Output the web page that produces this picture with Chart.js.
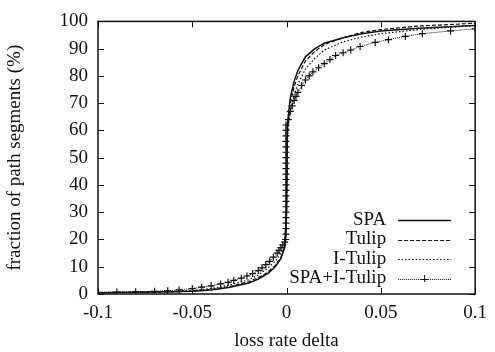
<!DOCTYPE html>
<html lang="en">
<head>
    <meta charset="UTF-8">
    <title>Loss rate delta CDF</title>
    <script src="https://cdn.jsdelivr.net/npm/chart.js"></script>
    <style>
        body { margin: 0; background: #ffffff; }
        canvas { display: block; }
    </style>
</head>
<body>
    <canvas id="cdfChart" width="495" height="352"></canvas>

    <script>
        // values
        const seriesNames = ['SPA', 'Tulip', 'I-Tulip', 'SPA+I-Tulip'];

        const spaX = [-0.1, -0.08, -0.06, -0.05, -0.04, -0.03, -0.02, -0.015, -0.01, -0.006, -0.003, -0.001, 0, 0.0005, 0.001, 0.002, 0.004, 0.006, 0.01, 0.015, 0.02, 0.03, 0.04, 0.05, 0.07, 0.1];
        const spaY = [0.5, 0.6, 0.8, 1, 1.5, 2.5, 4, 5.5, 7.5, 10, 13, 17, 30, 62, 66, 72, 78, 82, 87, 90, 92, 94, 95.5, 96.5, 97.5, 98.5];

        const tulipX = spaX;
        const tulipY = [0.5, 0.6, 0.8, 1.1, 1.7, 2.8, 4.5, 6, 8, 10.5, 13.5, 17.5, 30, 60, 64, 70, 76, 80, 85.5, 89, 91.5, 94, 96, 97, 98.3, 99.3];

        const iTulipX = spaX;
        const iTulipY = [0.5, 0.7, 1, 1.3, 2, 3.3, 5.2, 7, 9.5, 12, 15, 18.5, 30, 58, 62, 67, 73, 77, 82.5, 86.5, 89.5, 92.5, 94.3, 95.5, 97, 98.5];

        const comboX = [-0.1, -0.09, -0.08, -0.07, -0.063, -0.057, -0.05, -0.045, -0.04, -0.035, -0.031, -0.028, -0.024, -0.021, -0.018, -0.015, -0.013, -0.011, -0.009, -0.007, -0.005, -0.004, -0.003, -0.002, -0.001, -0.0005,
            -0.0003, -0.0003, -0.0003, -0.0003, -0.0003, -0.0003, -0.0003, -0.0003, -0.0003, -0.0003, -0.0003, -0.0003, -0.0003, -0.0003, -0.0003, -0.0003, -0.0003, -0.0003, -0.0003, -0.0003, -0.0003,
            0.001, 0.002, 0.003, 0.004, 0.005, 0.006, 0.008, 0.01, 0.012, 0.014, 0.017, 0.02, 0.023, 0.026, 0.03, 0.034, 0.039, 0.047, 0.054, 0.063, 0.072, 0.087, 0.1];
        const comboY = [0.6, 0.7, 0.8, 1, 1.2, 1.5, 2, 2.5, 3, 3.7, 4.3, 5, 5.8, 6.6, 7.5, 8.6, 9.6, 10.8, 12, 13.5, 15, 16, 17, 18, 19, 20,
            22, 24, 26, 28, 30, 32, 34, 36, 38, 40, 42, 44, 46, 48, 50, 52, 54, 56, 58, 60, 62,
            64, 67, 69, 71, 72.5, 74, 76.5, 78.5, 80, 81.5, 83, 84.5, 86, 87.5, 88.5, 89.5, 90.8, 92.3, 93.3, 94.5, 95.5, 96.5, 97.3];

        const xTicks = [-0.1, -0.05, 0, 0.05, 0.1];
        const yTicks = [0, 10, 20, 30, 40, 50, 60, 70, 80, 90, 100];

        const toPoints = (xs, ys) => xs.map((x, i) => ({ x: x, y: ys[i] }));

        const FONT = '"Liberation Serif", "Times New Roman", serif';
        const INK = '#111111';

        // gnuplot style box, inward ticks and key
        const gnuFrame = {
            id: 'gnuFrame',
            afterDatasetsDraw(chart) {
                const ctx = chart.ctx;
                const a = chart.chartArea;
                const xs = chart.scales.x;
                const ys = chart.scales.y;
                ctx.save();
                ctx.strokeStyle = INK;
                ctx.lineWidth = 1.5;
                ctx.setLineDash([]);
                ctx.strokeRect(a.left, a.top, a.right - a.left, a.bottom - a.top);
                ctx.lineWidth = 1;
                ctx.beginPath();
                xTicks.forEach(v => {
                    const px = Math.round(xs.getPixelForValue(v)) + 0.5;
                    ctx.moveTo(px, a.bottom); ctx.lineTo(px, a.bottom - 6);
                    ctx.moveTo(px, a.top); ctx.lineTo(px, a.top + 6);
                });
                yTicks.forEach(v => {
                    const py = Math.round(ys.getPixelForValue(v)) + 0.5;
                    ctx.moveTo(a.left, py); ctx.lineTo(a.left + 6, py);
                    ctx.moveTo(a.right, py); ctx.lineTo(a.right - 6, py);
                });
                ctx.stroke();

                // key
                ctx.font = '19px ' + FONT;
                ctx.fillStyle = INK;
                ctx.textAlign = 'right';
                ctx.textBaseline = 'middle';
                const textRight = a.right - 89;
                const s0 = a.right - 77, s1 = a.right - 24;
                chart.data.datasets.forEach((ds, i) => {
                    const y = a.bottom - 74 + i * 19.5;
                    ctx.fillText(ds.label, textRight, y);
                    ctx.strokeStyle = INK;
                    ctx.lineWidth = ds.borderWidth;
                    ctx.setLineDash(ds.borderDash || []);
                    ctx.beginPath();
                    ctx.moveTo(s0, Math.round(y) + 0.5);
                    ctx.lineTo(s1, Math.round(y) + 0.5);
                    ctx.stroke();
                    if (ds.pointRadius > 0) {
                        ctx.setLineDash([]);
                        ctx.lineWidth = 1;
                        const cx = (s0 + s1) / 2, r = ds.pointRadius;
                        ctx.beginPath();
                        ctx.moveTo(cx - r, Math.round(y) + 0.5); ctx.lineTo(cx + r, Math.round(y) + 0.5);
                        ctx.moveTo(cx, y - r); ctx.lineTo(cx, y + r);
                        ctx.stroke();
                    }
                });
                ctx.restore();
            }
        };

        const ctx = document.getElementById('cdfChart').getContext('2d');
        new Chart(ctx, {
            type: 'line',
            data: {
                datasets: [
                    { label: seriesNames[0], data: toPoints(spaX, spaY), borderColor: INK, borderWidth: 1.5, pointRadius: 0, tension: 0 },
                    { label: seriesNames[1], data: toPoints(tulipX, tulipY), borderColor: INK, borderWidth: 1.2, borderDash: [4, 2], pointRadius: 0, tension: 0 },
                    { label: seriesNames[2], data: toPoints(iTulipX, iTulipY), borderColor: INK, borderWidth: 1.2, borderDash: [1.5, 2], pointRadius: 0, tension: 0 },
                    { label: seriesNames[3], data: toPoints(comboX, comboY), borderColor: INK, borderWidth: 1, borderDash: [1, 1],
                      pointStyle: 'cross', pointRadius: 3.5, pointBorderWidth: 1.2, pointBorderColor: INK, tension: 0 }
                ]
            },
            options: {
                responsive: false,
                animation: false,
                devicePixelRatio: 1,
                layout: { padding: { top: 15, right: 13, left: 0, bottom: 0 } },
                plugins: {
                    legend: { display: false },
                    tooltip: { enabled: false }
                },
                scales: {
                    x: {
                        type: 'linear',
                        min: -0.1,
                        max: 0.1,
                        afterBuildTicks: s => { s.ticks = xTicks.map(v => ({ value: v })); },
                        afterFit: s => { s.height = 58; },
                        grid: { display: false, tickLength: 0 },
                        border: { display: false },
                        ticks: {
                            color: INK,
                            padding: 8,
                            maxRotation: 0,
                            font: { family: FONT, size: 19 },
                            callback: v => String(v)
                        },
                        title: {
                            display: true,
                            text: 'loss rate delta',
                            color: INK,
                            font: { family: FONT, size: 19 },
                            padding: { top: 4, bottom: 0 }
                        }
                    },
                    y: {
                        min: 0,
                        max: 100,
                        afterBuildTicks: s => { s.ticks = yTicks.map(v => ({ value: v })); },
                        afterFit: s => { s.width = 98; },
                        grid: { display: false, tickLength: 0 },
                        border: { display: false },
                        ticks: {
                            color: INK,
                            padding: 10,
                            font: { family: FONT, size: 19 }
                        },
                        title: {
                            display: true,
                            text: 'fraction of path segments (%)',
                            color: INK,
                            font: { family: FONT, size: 19 },
                            padding: { top: 4, bottom: 0 }
                        }
                    }
                }
            },
            plugins: [gnuFrame]
        });
    </script>
</body>
</html>
